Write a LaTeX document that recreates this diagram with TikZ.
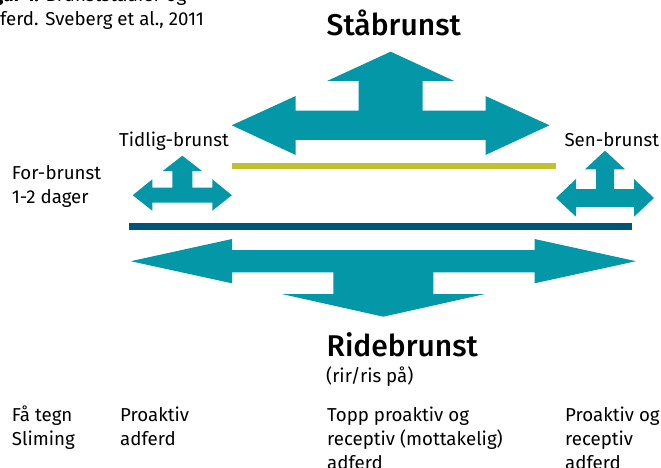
\documentclass[tikz,border=0pt]{standalone}
\usepackage{fontspec}
\setmainfont{Fira Sans}
\IfFontExistsTF{Fira Sans Medium}{\newfontfamily\titlefont{Fira Sans Medium}}{\newfontfamily\titlefont{Fira Sans}[FakeBold=1.5]}
\definecolor{arrowteal}{HTML}{0397A7}
\definecolor{olivebar}{HTML}{C3C02F}
\definecolor{navybar}{HTML}{005478}
\tikzset{
  arrowshape/.style={fill=arrowteal, draw=none},
  lbl/.style={inner sep=0pt, anchor=base west, align=left, font=\fontsize{18.7}{24}\selectfont},
  ttl/.style={inner sep=0pt, anchor=base west, font=\fontsize{30}{36}\selectfont\titlefont},
}
\begin{document}
\begin{tikzpicture}[x=1pt,y=-1pt]
\useasboundingbox (0,0) rectangle (661,468);
\clip (0,0) rectangle (661,468);

% caption (cropped)
\node[lbl] (cap1) at (-21,2) {\textbf{Figur 1.} Brunststadier og};
\node[lbl] (cap2) at (-21.5,26) {adferd. Sveberg et al., 2011};

% titles
\node[ttl] (sta) at (326.5,36) {Ståbrunst};
\node[ttl] (ride) at (326.5,356.7) {Ridebrunst};
\node[lbl] (rir) at (326,382.7) {(rir/ris på)};

% stage labels
\node[lbl] (tidlig) at (119,146.7) {Tidlig-brunst};
\node[lbl] (sen) at (564.3,146.7) {Sen-brunst};
\node[lbl] (for1) at (11.7,179.5) {For-brunst};
\node[lbl] (for2) at (11.7,203.5) {1-2 dager};

% bottom descriptions
\node[lbl] (b1a) at (11.7,421.7) {Få tegn};
\node[lbl] (b1b) at (11.7,445.7) {Sliming};
\node[lbl] (b2a) at (120,421.7) {Proaktiv};
\node[lbl] (b2b) at (120,445.7) {adferd};
\node[lbl] (b3a) at (327,421.7) {Topp proaktiv og};
\node[lbl] (b3b) at (327,445.7) {receptiv (mottakelig)};
\node[lbl] (b3c) at (327,469.7) {adferd};
\node[lbl] (b4a) at (565,421.7) {Proaktiv og};
\node[lbl] (b4b) at (565,445.7) {receptiv};
\node[lbl] (b4c) at (565,469.7) {adferd};

% bars
\coordinate (olA) at (232,166.3);
\coordinate (olB) at (556,166.3);
\draw[olivebar, line width=6pt] (olA) -- (olB);
\coordinate (nvA) at (129,226.7);
\coordinate (nvB) at (632,226.7);
\draw[navybar, line width=6.7pt] (nvA) -- (nvB);

% Staabrunst arrow (left, right, up)
\fill[arrowshape] (231.7,125.3) -- (295.7,96) -- (295.7,110.7) -- (358.7,110.7) -- (358.7,81)
  -- (327,81) -- (390.6,51.7) -- (454.2,81) -- (422.5,81) -- (422.5,110.7) -- (485.5,110.7)
  -- (485.5,96) -- (549.5,125.3) -- (485.5,155) -- (485.5,140) -- (295.7,140) -- (295.7,155) -- cycle;

% Tidlig-brunst arrow
\fill[arrowshape] (132.7,195.2) -- (152.3,179.3) -- (152.3,187.7) -- (172.3,187.7) -- (172.3,171)
  -- (162.7,171) -- (182.3,155.7) -- (202,171) -- (192.3,171) -- (192.3,187.7) -- (212.3,187.7)
  -- (212.3,179.3) -- (231.9,195.2) -- (212.3,210.7) -- (212.3,202.7) -- (152.3,202.7) -- (152.3,210.7) -- cycle;

% Sen-brunst arrow
\fill[arrowshape] (556,198) -- (576,179) -- (576,189) -- (596,189) -- (596,169.3)
  -- (585,169.3) -- (605,150.7) -- (625,169.3) -- (614,169.3) -- (614,189) -- (634,189)
  -- (634,179) -- (654,198) -- (634,216.7) -- (634,207) -- (576,207) -- (576,216.7) -- cycle;

% Ridebrunst arrow (left, right, down)
\fill[arrowshape] (130.7,261.2) -- (232,239) -- (232,250) -- (534.5,250) -- (534.5,239)
  -- (636,261.2) -- (534.5,283.3) -- (534.5,272.3) -- (433.3,272.3) -- (433.3,294)
  -- (485,294) -- (383.3,316.7) -- (281.7,294) -- (333.3,294) -- (333.3,272.3)
  -- (232,272.3) -- (232,283.3) -- cycle;
\end{tikzpicture}
\end{document}
